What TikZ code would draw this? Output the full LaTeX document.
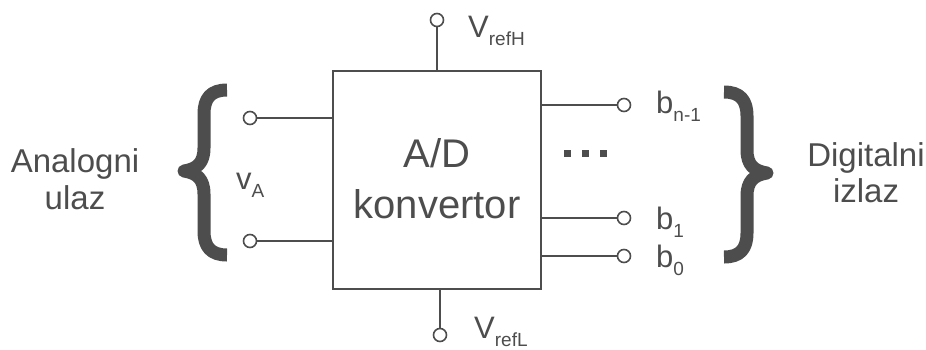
\documentclass[tikz,border=0pt]{standalone}
\usepackage{fontspec}
\setmainfont{Liberation Sans}
\usetikzlibrary{positioning}

\definecolor{ink}{RGB}{77,77,77}
\newcommand{\lowsub}[1]{\raisebox{-8pt}{\fontsize{19}{19}\selectfont #1}}

\tikzset{
    term/.style={circle, draw=ink, line width=1.6pt, fill=white, inner sep=0pt, minimum size=13pt},
    wire/.style={draw=ink, line width=1.6pt},
    lbl/.style={text=ink, font=\fontsize{31}{36}\selectfont, inner sep=0pt},
    bigtxt/.style={text=ink, font=\fontsize{33}{37}\selectfont, inner sep=0pt, anchor=base},
    boxtxt/.style={text=ink, font=\fontsize{40}{48}\selectfont, inner sep=0pt, anchor=base},
    brace/.style={draw=ink, line width=13pt, line join=round}
}

\begin{document}
\begin{tikzpicture}[x=1pt, y=-1pt]
    \useasboundingbox (0,0) rectangle (926,349);

    % Converter block
    \node[draw=ink, line width=2pt, minimum width=208pt, minimum height=218pt, inner sep=0pt] (adc) at (437,180) {};
    \node[boxtxt] (adctop) at (437,167) {A/D};
    \node[boxtxt] (adcbot) at (437,218) {konvertor};

    % Reference voltages
    \node[term] (vh) at (437,20) {};
    \draw[wire] (vh) -- (vh |- adc.north);
    \node[lbl, anchor=base west] (vhtxt) at (468,37) {V\lowsub{refH}};
    \node[term] (vl) at (440,335) {};
    \draw[wire] (vl) -- (vl |- adc.south);
    \node[lbl, anchor=base west] (vltxt) at (474,338) {V\lowsub{refL}};

    % Analog input
    \node[term] (ina) at (250,118) {};
    \node[term] (inb) at (250,241) {};
    \draw[wire] (ina) -- (ina -| adc.west);
    \draw[wire] (inb) -- (inb -| adc.west);
    \node[lbl, anchor=base west] (vatxt) at (236,189) {v\lowsub{A}};

    % Digital outputs
    \node[term] (bn) at (624,105) {};
    \node[term] (b1) at (624,218) {};
    \node[term] (b0) at (624,256) {};
    \draw[wire] (bn) -- (bn -| adc.east);
    \draw[wire] (b1) -- (b1 -| adc.east);
    \draw[wire] (b0) -- (b0 -| adc.east);
    \node[lbl, anchor=base west] (bntxt) at (656,113) {b\lowsub{n-1}};
    \node[lbl, anchor=base west] (b1txt) at (656,229) {b\lowsub{1}};
    \node[lbl, anchor=base west] (b0txt) at (656,267) {b\lowsub{0}};
    \foreach \x in {567,585,603}
        \fill[ink] (\x-3.5,150) rectangle +(7,7);

    % Braces
    \draw[brace] (227,90) .. controls (211,90) and (204,98) .. (204,114) -- (204,148)
        .. controls (204,163) and (197,169) .. (184,171)
        .. controls (197,173) and (204,179) .. (204,194) -- (204,231)
        .. controls (204,247) and (211,255) .. (227,255);
    \draw[brace] (724,92) .. controls (740,92) and (747,100) .. (747,116) -- (747,150)
        .. controls (747,165) and (754,171) .. (767,173)
        .. controls (754,175) and (747,181) .. (747,196) -- (747,233)
        .. controls (747,249) and (740,257) .. (724,257);

    % Side labels
    \node[bigtxt] (antop) at (75,172) {Analogni};
    \node[bigtxt] (anbot) at (75,209) {ulaz};
    \node[bigtxt] (digtop) at (866,166) {Digitalni};
    \node[bigtxt] (digbot) at (866,202) {izlaz};
\end{tikzpicture}
\end{document}
